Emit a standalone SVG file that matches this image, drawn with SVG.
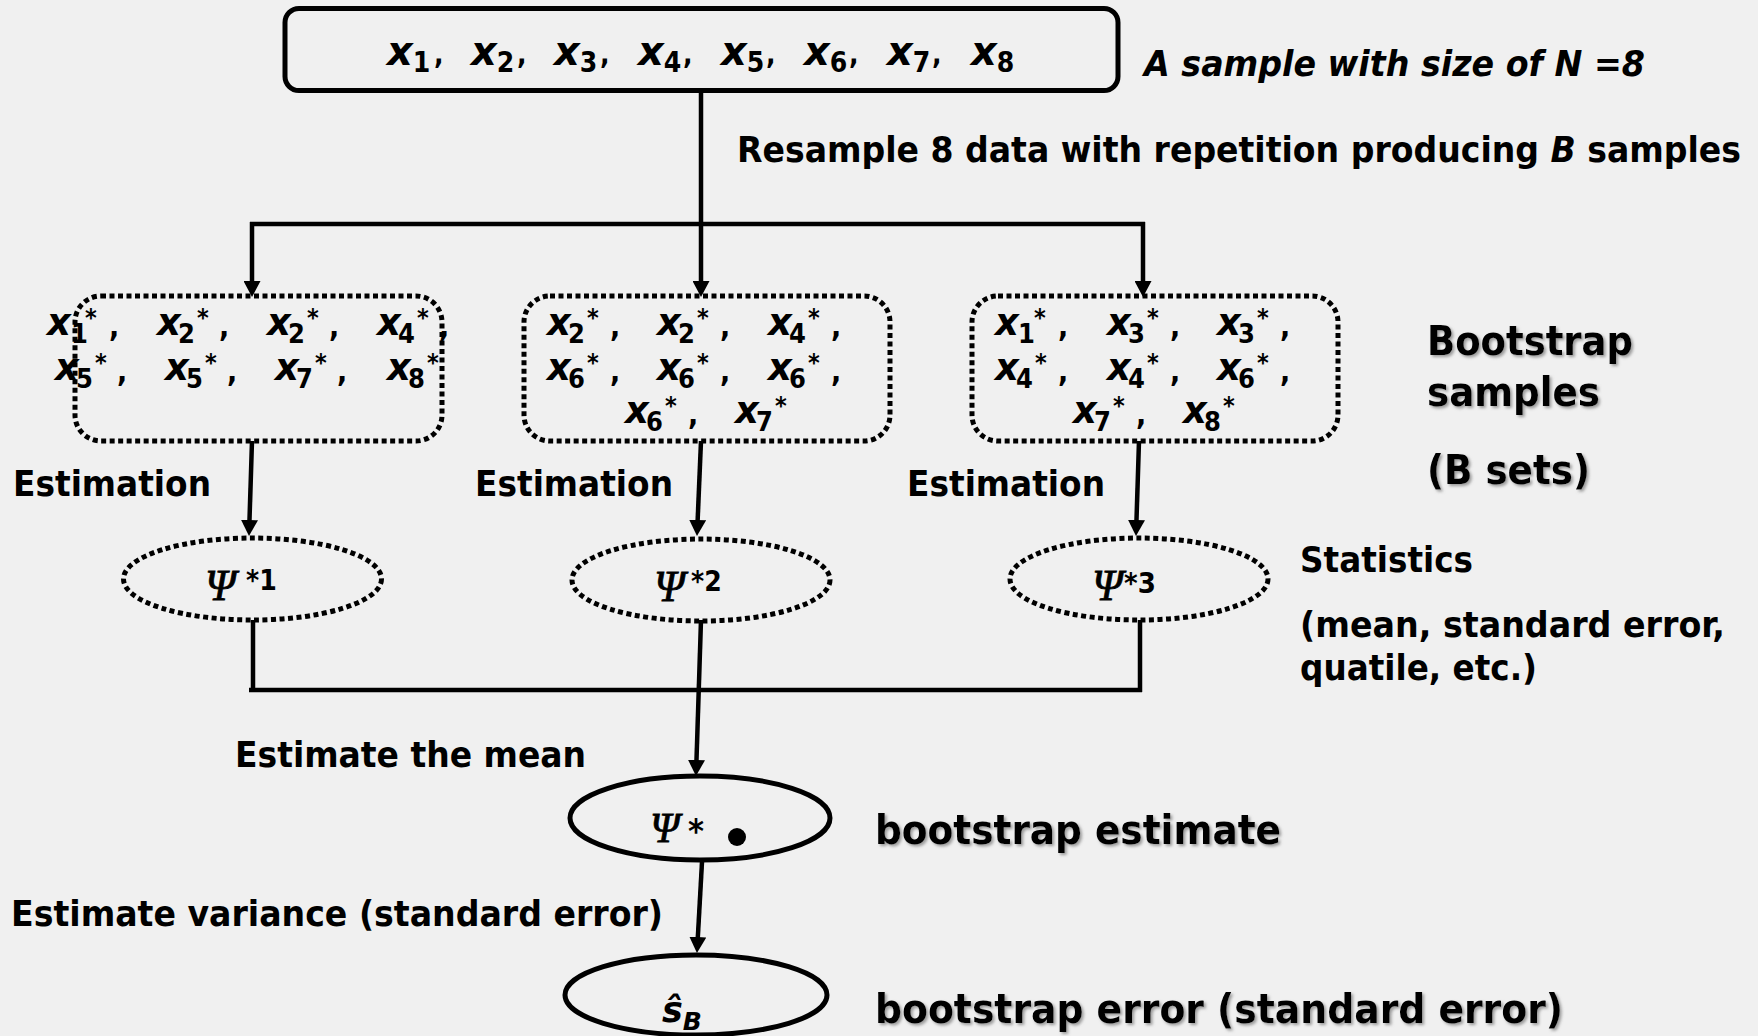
<svg xmlns="http://www.w3.org/2000/svg" width="1758" height="1036" viewBox="0 0 1758 1036">
<defs>
<style>
.bg{fill:#f0f0f0}
.lbl{font-family:"DejaVu Sans Condensed","DejaVu Sans",sans-serif;font-stretch:condensed;font-weight:bold;font-size:36px;fill:#000}
.big{font-size:41px;filter:url(#sh)}
.it{font-style:italic}
.xv{font-family:"DejaVu Sans",sans-serif;font-weight:bold;font-style:italic;fill:#000}
.sub{font-family:"DejaVu Sans Condensed","DejaVu Sans",sans-serif;font-stretch:condensed;font-weight:bold;font-style:normal;fill:#000}
.psi{font-family:"Liberation Serif","DejaVu Serif",serif;font-style:italic;fill:#000;stroke:#000;stroke-width:0.8}
.dot{fill:none;stroke:#000;stroke-width:5;stroke-dasharray:5 3.5}
.solid{fill:none;stroke:#000;stroke-width:5}
.ln{fill:none;stroke:#000;stroke-width:4.5}
.bx text.x{font-size:37px}
.bx text.s{font-size:27px}
.bx text.a{font-size:25px}
.bx text.c{font-size:30px}
</style>
<filter id="sh" x="-5%" y="-20%" width="110%" height="140%">
<feDropShadow dx="2" dy="2" stdDeviation="1.5" flood-color="#777" flood-opacity="0.7"/>
</filter>
<marker id="ah" markerUnits="userSpaceOnUse" markerWidth="17" markerHeight="17" refX="6" refY="8.5" orient="auto">
<path d="M0,0 L16,8.5 L0,17 z" fill="#000"/>
</marker>
</defs>
<rect class="bg" x="0" y="0" width="1758" height="1036"/>

<g id="connectors">
<path class="ln" d="M701,92 V287" marker-end="url(#ah)"/>
<path class="ln" d="M250,224 H1145"/>
<path class="ln" d="M252,222 V287" marker-end="url(#ah)"/>
<path class="ln" d="M1143,222 V287" marker-end="url(#ah)"/>
<path class="ln" d="M252,441 L249.3,526" marker-end="url(#ah)"/>
<path class="ln" d="M701,441 L697.4,526" marker-end="url(#ah)"/>
<path class="ln" d="M1139,441 L1136.3,526" marker-end="url(#ah)"/>
<path class="ln" d="M253,620 V692"/>
<path class="ln" d="M1140,620 V692"/>
<path class="ln" d="M249,690 H1142"/>
<path class="ln" d="M701,620 L696.3,766" marker-end="url(#ah)"/>
<path class="ln" d="M702,862 L697.5,943" marker-end="url(#ah)"/>
</g>

<g id="sample">
<rect class="solid" x="285" y="8.5" width="833" height="82" rx="14"/>
<g font-size="40">
<text class="xv" x="387" y="65">x<tspan class="sub" font-size="28" dy="7">1</tspan></text>
<text class="xv" x="471" y="65">x<tspan class="sub" font-size="28" dy="7">2</tspan></text>
<text class="xv" x="554" y="65">x<tspan class="sub" font-size="28" dy="7">3</tspan></text>
<text class="xv" x="638" y="65">x<tspan class="sub" font-size="28" dy="7">4</tspan></text>
<text class="xv" x="721" y="65">x<tspan class="sub" font-size="28" dy="7">5</tspan></text>
<text class="xv" x="804" y="65">x<tspan class="sub" font-size="28" dy="7">6</tspan></text>
<text class="xv" x="887" y="65">x<tspan class="sub" font-size="28" dy="7">7</tspan></text>
<text class="xv" x="971" y="65">x<tspan class="sub" font-size="28" dy="7">8</tspan></text>
</g>
<g class="sub" font-size="28">
<text x="434" y="64">,</text><text x="517" y="64">,</text><text x="600" y="64">,</text><text x="683" y="64">,</text><text x="766" y="64">,</text><text x="849" y="64">,</text><text x="932" y="64">,</text>
</g>
</g>

<g id="boot1" class="bx">
<rect class="dot" x="75" y="296" width="367" height="145" rx="26"/>
<text class="xv x" x="47" y="335">x</text><text class="sub s" x="71" y="343">1</text><text class="sub a" x="85" y="326">*</text><text class="sub c" x="109" y="337">,</text>
<text class="xv x" x="157" y="335">x</text><text class="sub s" x="178" y="343">2</text><text class="sub a" x="197" y="326">*</text><text class="sub c" x="219" y="337">,</text>
<text class="xv x" x="267" y="335">x</text><text class="sub s" x="288" y="343">2</text><text class="sub a" x="307" y="326">*</text><text class="sub c" x="329" y="337">,</text>
<text class="xv x" x="377" y="335">x</text><text class="sub s" x="398" y="343">4</text><text class="sub a" x="417" y="326">*</text><text class="sub c" x="439" y="337">,</text>
<text class="xv x" x="55" y="380">x</text><text class="sub s" x="76" y="388">5</text><text class="sub a" x="95" y="371">*</text><text class="sub c" x="117" y="382">,</text>
<text class="xv x" x="165" y="380">x</text><text class="sub s" x="186" y="388">5</text><text class="sub a" x="205" y="371">*</text><text class="sub c" x="227" y="382">,</text>
<text class="xv x" x="275" y="380">x</text><text class="sub s" x="296" y="388">7</text><text class="sub a" x="315" y="371">*</text><text class="sub c" x="337" y="382">,</text>
<text class="xv x" x="387" y="380">x</text><text class="sub s" x="408" y="388">8</text><text class="sub a" x="427" y="371">*</text>
</g>

<g id="boot2" class="bx">
<rect class="dot" x="524" y="296" width="366" height="145" rx="26"/>
<text class="xv x" x="547" y="335">x</text><text class="sub s" x="568" y="343">2</text><text class="sub a" x="587" y="326">*</text><text class="sub c" x="610" y="337">,</text>
<text class="xv x" x="657" y="335">x</text><text class="sub s" x="678" y="343">2</text><text class="sub a" x="697" y="326">*</text><text class="sub c" x="720" y="337">,</text>
<text class="xv x" x="768" y="335">x</text><text class="sub s" x="789" y="343">4</text><text class="sub a" x="808" y="326">*</text><text class="sub c" x="831" y="337">,</text>
<text class="xv x" x="547" y="380">x</text><text class="sub s" x="568" y="388">6</text><text class="sub a" x="587" y="371">*</text><text class="sub c" x="610" y="382">,</text>
<text class="xv x" x="657" y="380">x</text><text class="sub s" x="678" y="388">6</text><text class="sub a" x="697" y="371">*</text><text class="sub c" x="720" y="382">,</text>
<text class="xv x" x="768" y="380">x</text><text class="sub s" x="789" y="388">6</text><text class="sub a" x="808" y="371">*</text><text class="sub c" x="831" y="382">,</text>
<text class="xv x" x="625" y="423">x</text><text class="sub s" x="646" y="431">6</text><text class="sub a" x="665" y="414">*</text><text class="sub c" x="688" y="425">,</text>
<text class="xv x" x="735" y="423">x</text><text class="sub s" x="756" y="431">7</text><text class="sub a" x="775" y="414">*</text>
</g>

<g id="boot3" class="bx">
<rect class="dot" x="972" y="296" width="366" height="145" rx="26"/>
<text class="xv x" x="995" y="335">x</text><text class="sub s" x="1018" y="343">1</text><text class="sub a" x="1034" y="326">*</text><text class="sub c" x="1058" y="337">,</text>
<text class="xv x" x="1107" y="335">x</text><text class="sub s" x="1128" y="343">3</text><text class="sub a" x="1147" y="326">*</text><text class="sub c" x="1170" y="337">,</text>
<text class="xv x" x="1217" y="335">x</text><text class="sub s" x="1238" y="343">3</text><text class="sub a" x="1257" y="326">*</text><text class="sub c" x="1280" y="337">,</text>
<text class="xv x" x="995" y="380">x</text><text class="sub s" x="1016" y="388">4</text><text class="sub a" x="1035" y="371">*</text><text class="sub c" x="1058" y="382">,</text>
<text class="xv x" x="1107" y="380">x</text><text class="sub s" x="1128" y="388">4</text><text class="sub a" x="1147" y="371">*</text><text class="sub c" x="1170" y="382">,</text>
<text class="xv x" x="1217" y="380">x</text><text class="sub s" x="1238" y="388">6</text><text class="sub a" x="1257" y="371">*</text><text class="sub c" x="1280" y="382">,</text>
<text class="xv x" x="1073" y="423">x</text><text class="sub s" x="1094" y="431">7</text><text class="sub a" x="1113" y="414">*</text><text class="sub c" x="1136" y="425">,</text>
<text class="xv x" x="1183" y="423">x</text><text class="sub s" x="1204" y="431">8</text><text class="sub a" x="1223" y="414">*</text>
</g>

<g id="stat1">
<ellipse class="dot" cx="252.5" cy="579" rx="129" ry="41"/>
<text class="psi" x="205" y="600" font-size="44">Ψ</text>
<text class="sub" x="246" y="590" font-size="28">*1</text>
</g>
<g id="stat2">
<ellipse class="dot" cx="701" cy="580" rx="129" ry="41"/>
<text class="psi" x="654" y="601" font-size="44">Ψ</text>
<text class="sub" x="691" y="591" font-size="28">*2</text>
</g>
<g id="stat3">
<ellipse class="dot" cx="1139" cy="579" rx="129" ry="41"/>
<text class="psi" x="1092" y="600" font-size="44">Ψ</text>
<text class="sub" x="1124" y="593" font-size="29" font-weight="normal">*3</text>
</g>

<g id="estimate">
<ellipse class="solid" cx="700" cy="818" rx="130" ry="42"/>
<text class="psi" x="650" y="842" font-size="42">Ψ</text>
<text class="sub" x="688" y="843" font-size="34">*</text>
<circle cx="737" cy="837" r="9" fill="#000"/>
</g>

<g id="error">
<ellipse class="solid" cx="696" cy="995" rx="131" ry="40"/>
<text class="xv" x="662" y="1022" font-size="35" font-weight="normal">ŝ<tspan font-weight="bold" font-size="25" dy="8">B</tspan></text>
</g>

<g id="labels">
<text class="lbl it" x="1144" y="76" font-size="38" textLength="501" lengthAdjust="spacingAndGlyphs">A sample with size of N =8</text>
<text class="lbl" x="737" y="162" textLength="1004" lengthAdjust="spacingAndGlyphs">Resample 8 data with repetition producing <tspan class="it">B</tspan> samples</text>
<text class="lbl" x="13" y="496" font-size="38" textLength="198" lengthAdjust="spacingAndGlyphs">Estimation</text>
<text class="lbl" x="475" y="496" font-size="38" textLength="198" lengthAdjust="spacingAndGlyphs">Estimation</text>
<text class="lbl" x="907" y="496" font-size="38" textLength="198" lengthAdjust="spacingAndGlyphs">Estimation</text>
<text class="lbl big" x="1427" y="355" font-size="40" textLength="206" lengthAdjust="spacingAndGlyphs">Bootstrap</text>
<text class="lbl big" x="1427" y="406" font-size="40" textLength="173" lengthAdjust="spacingAndGlyphs">samples</text>
<text class="lbl big" x="1427" y="484" font-size="40" textLength="163" lengthAdjust="spacingAndGlyphs">(B sets)</text>
<text class="lbl" x="1300" y="572" textLength="173" lengthAdjust="spacingAndGlyphs">Statistics</text>
<text class="lbl" x="1300" y="637" textLength="425" lengthAdjust="spacingAndGlyphs">(mean, standard error,</text>
<text class="lbl" x="1300" y="680" textLength="237" lengthAdjust="spacingAndGlyphs">quatile, etc.)</text>
<text class="lbl" x="235" y="767" textLength="351" lengthAdjust="spacingAndGlyphs">Estimate the mean</text>
<text class="lbl big" x="875" y="844" textLength="406" lengthAdjust="spacingAndGlyphs">bootstrap estimate</text>
<text class="lbl" x="11" y="926" textLength="652" lengthAdjust="spacingAndGlyphs">Estimate variance (standard error)</text>
<text class="lbl big" x="875" y="1023" textLength="688" lengthAdjust="spacingAndGlyphs">bootstrap error (standard error)</text>
</g>
</svg>
